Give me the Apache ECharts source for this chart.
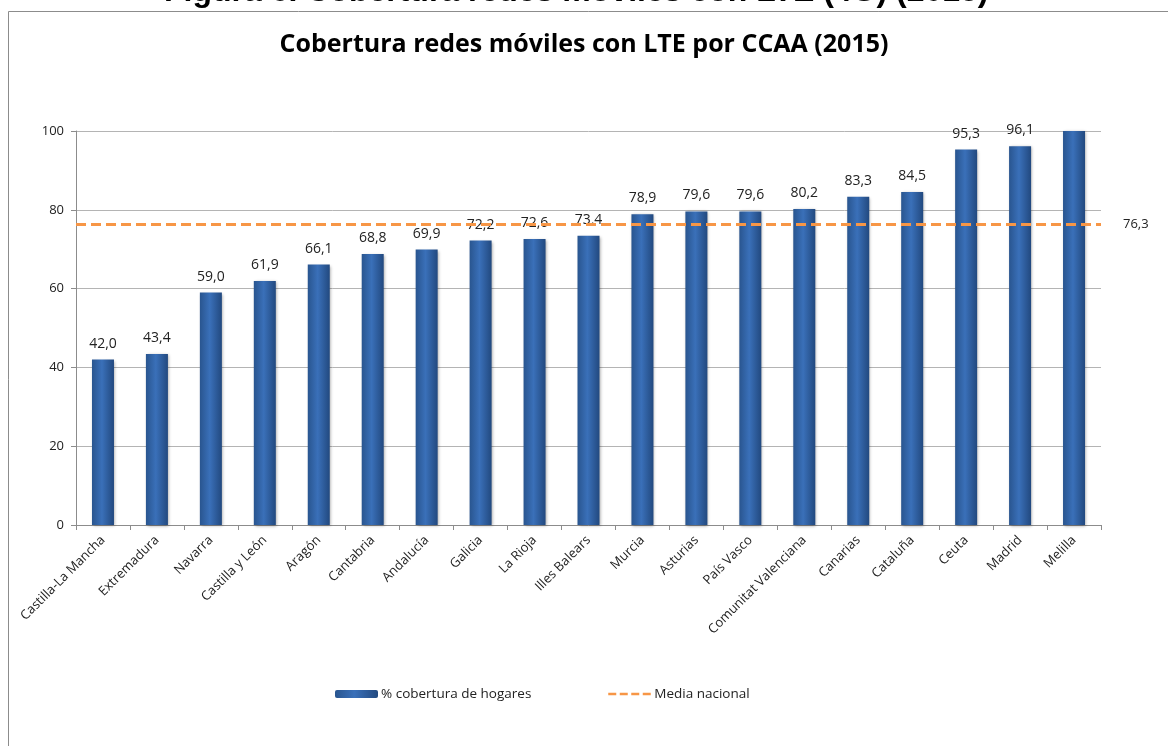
<!DOCTYPE html>
<html>
<head>
<meta charset="utf-8">
<script src="https://cdn.jsdelivr.net/npm/echarts@6/dist/echarts.min.js"></script>
<style>
html,body{margin:0;padding:0;background:#fff;}
#main{width:1168px;height:746px;}
</style>
</head>
<body>
<div id="main"></div>
<script>
// comunidades ordenadas de menor a mayor cobertura
var regiones = ['Castilla-La Mancha', 'Extremadura', 'Navarra', 'Castilla y León', 'Aragón',
    'Cantabria', 'Andalucía', 'Galicia', 'La Rioja', 'Illes Balears', 'Murcia', 'Asturias',
    'País Vasco', 'Comunitat Valenciana', 'Canarias', 'Cataluña', 'Ceuta', 'Madrid', 'Melilla'];
var cobertura = [42.0, 43.4, 59.0, 61.9, 66.1, 68.8, 69.9, 72.2, 72.6, 73.4, 78.9, 79.6,
    79.6, 80.2, 83.3, 84.5, 95.3, 96.1, 100];
var mediaNacional = 76.3;
var ticksY = [0, 20, 40, 60, 80, 100];

var fuente = '"Open Sans", Lato, sans-serif';
var naranja = '#f79646';

var myChart = echarts.init(document.getElementById('main'));

function coma(v) {
    return v.toFixed(1).replace('.', ',');
}

var option = {
    backgroundColor: '#fff',
    animation: false,
    textStyle: { fontFamily: fuente },
    title: {
        text: 'Cobertura redes móviles con LTE por CCAA (2015)',
        left: 'center',
        top: 27,
        textStyle: { fontSize: 25, fontWeight: 'bold', color: '#000', fontFamily: fuente }
    },
    graphic: [
        {
            // marco del gráfico
            type: 'rect',
            shape: { x: 8.5, y: 11.5, width: 1200, height: 800 },
            style: { fill: 'none', stroke: '#8c8c8c', lineWidth: 1 },
            silent: true
        },
        {
            // título del documento, cortado arriba
            type: 'text',
            left: 164,
            top: -24,
            style: {
                text: 'Figura 6. Cobertura redes móviles con LTE (4G) (2015)',
                font: 'bold 32px "Liberation Sans", Arial, sans-serif',
                fill: '#000'
            },
            silent: true
        }
    ],
    legend: [
        {
            left: 330,
            top: 682,
            itemWidth: 43,
            itemHeight: 8,
            textStyle: { fontSize: 13.5, color: '#222', fontFamily: fuente, padding: [0, 0, 0, -2] },
            data: ['% cobertura de hogares']
        },
        {
            left: 602,
            top: 682,
            itemWidth: 43,
            itemHeight: 8,
            textStyle: { fontSize: 13.5, color: '#222', fontFamily: fuente, padding: [0, 0, 0, -2] },
            data: [{
                name: 'Media nacional',
                itemStyle: { opacity: 0 },
                lineStyle: { color: naranja, type: [8, 3.5], width: 2.5 }
            }]
        }
    ],
    grid: {
        left: 76,
        right: 67,
        top: 131,
        bottom: 221,
        containLabel: false
    },
    xAxis: {
        type: 'category',
        data: regiones,
        boundaryGap: true,
        axisLine: { lineStyle: { color: '#8c8c8c' } },
        axisTick: { show: true, length: 5, lineStyle: { color: '#8c8c8c' } },
        axisLabel: {
            interval: 0,
            rotate: 45,
            fontSize: 13,
            color: '#222',
            margin: 13,
            fontFamily: fuente
        }
    },
    yAxis: {
        type: 'value',
        min: ticksY[0],
        max: ticksY[ticksY.length - 1],
        interval: 20,
        axisLine: { show: true, lineStyle: { color: '#8c8c8c' } },
        axisTick: { show: true, length: 5, lineStyle: { color: '#8c8c8c' } },
        splitLine: { lineStyle: { color: '#b4b4b4' } },
        axisLabel: { fontSize: 13, color: '#222', margin: 12, fontFamily: fuente }
    },
    series: [
        {
            name: '% cobertura de hogares',
            type: 'bar',
            data: cobertura.map(function (v) {
                // Melilla (100) sin etiqueta en el original
                return v >= 100 ? { value: v, label: { show: false } } : v;
            }),
            barWidth: 22,
            itemStyle: {
                color: new echarts.graphic.LinearGradient(0, 0, 1, 0, [
                    { offset: 0, color: '#29558f' },
                    { offset: 0.45, color: '#3a70b9' },
                    { offset: 1, color: '#22497f' }
                ]),
                shadowBlur: 3,
                shadowOffsetX: 1,
                shadowOffsetY: 1,
                shadowColor: 'rgba(0,0,0,0.35)'
            },
            label: {
                show: true,
                position: 'top',
                distance: 9,
                fontSize: 14,
                color: '#222',
                fontFamily: fuente,
                formatter: function (p) {
                    return coma(p.value);
                }
            },
            z: 2
        },
        {
            name: 'Media nacional',
            type: 'line',
            data: [],
            symbol: 'none',
            itemStyle: { color: naranja },
            lineStyle: { color: naranja, type: [10, 5], width: 3 },
            markLine: {
                silent: true,
                symbol: 'none',
                lineStyle: { color: naranja, type: [10, 5], width: 3 },
                label: {
                    show: true,
                    position: 'end',
                    distance: 22,
                    fontSize: 13,
                    color: '#222',
                    fontFamily: fuente,
                    formatter: function () {
                        return coma(mediaNacional);
                    }
                },
                data: [{ yAxis: mediaNacional }]
            },
            z: 3
        }
    ]
};

myChart.setOption(option);
</script>
</body>
</html>
